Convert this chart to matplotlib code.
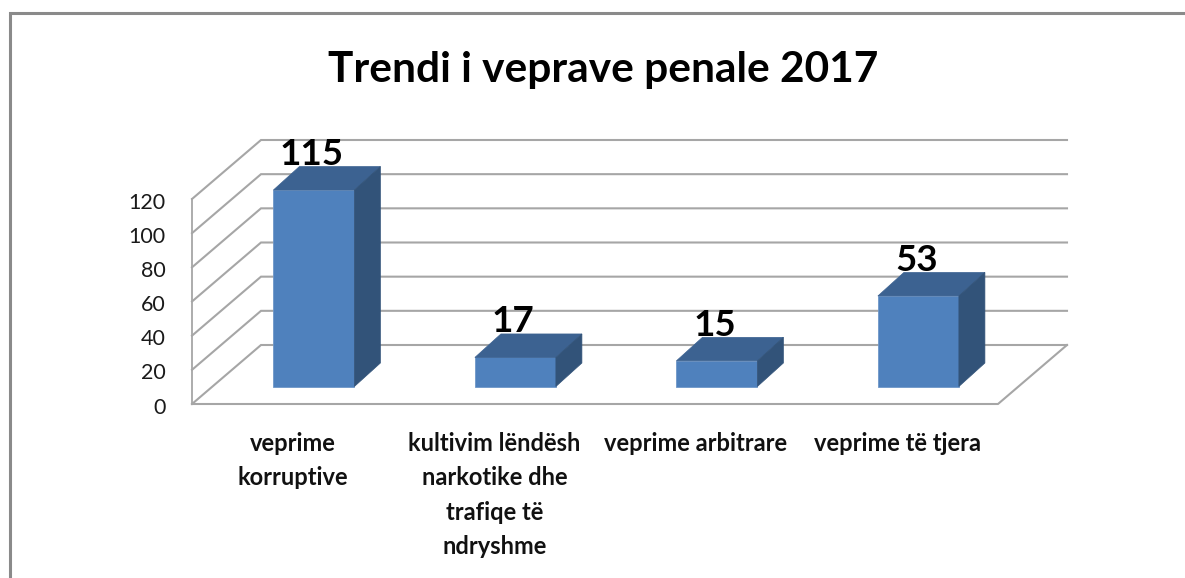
import matplotlib.pyplot as plt
from matplotlib.patches import Polygon
from matplotlib.lines import Line2D
from matplotlib.transforms import ScaledTranslation

plt.rcParams['font.family'] = ['Lato', 'DejaVu Sans']

# Values
categories = ['veprime\nkorruptive',
              'kultivim lëndësh\nnarkotike dhe\ntrafiqe të\nndryshme',
              'veprime arbitrare',
              'veprime të tjera']
values = [115, 17, 15, 53]
y_ticks = [0, 20, 40, 60, 80, 100, 120]
title = 'Trendi i veprave penale 2017'

W, H = 1185, 578
fig = plt.figure(figsize=(W / 100, H / 100), dpi=100, facecolor='white')

# Outer frame of the pasted chart, only top and left are in the crop
fig.add_artist(Line2D([9.5 / W, 9.5 / W, 1], [0, 1 - 12.5 / H, 1 - 12.5 / H], transform=fig.transFigure,
                      color='#8a8a8a', lw=2.2, solid_joinstyle='miter'))

# The axes is the front plane of the fake 3d box
left, right, top, bottom = 192, 998, 199, 404
ax = fig.add_axes([left / W, 1 - bottom / H, (right - left) / W, (bottom - top) / H])
ax.set_xlim(-0.6, 3.4)
ax.set_ylim(0, 120)
ax.patch.set_visible(False)
for s in ax.spines.values():
    s.set_visible(False)

x_per_px = 4.0 / (right - left)
y_per_px = 120.0 / (bottom - top)

# Depth of the walls and of the bars, in data units
wall_dx, wall_dy = 69 * x_per_px, 59 * y_per_px
bar_dx, bar_dy = 26 * x_per_px, 23.5 * y_per_px
bar_w = 81 * x_per_px
bar_base = 17.5 * y_per_px
bar_shift = 1 * x_per_px

grid_col = '#a6a6a6'
x0, x1 = ax.get_xlim()

for t in y_ticks:
    ax.plot([x0, x0 + wall_dx, x1 + wall_dx], [t, t + wall_dy, t + wall_dy],
            color=grid_col, lw=1.5, clip_on=False, zorder=1, solid_joinstyle='miter')
ax.plot([x0, x0], [0, 120], color=grid_col, lw=1.3, clip_on=False, zorder=1)
ax.plot([x0, x1, x1 + wall_dx], [0, 0, wall_dy], color=grid_col, lw=1.5, clip_on=False, zorder=1)

# Bars: front, top and side faces
for i, v in enumerate(values):
    xa = i - bar_w / 2 + bar_shift
    xb = xa + bar_w
    y0 = bar_base
    y1 = bar_base + v
    ax.add_patch(Polygon([(xa, y0), (xb, y0), (xb, y1), (xa, y1)], closed=True,
                         facecolor='#4f81bd', edgecolor='#6f97c8', lw=0.6, zorder=3, clip_on=False))
    ax.add_patch(Polygon([(xa, y1), (xb, y1), (xb + bar_dx, y1 + bar_dy), (xa + bar_dx, y1 + bar_dy)],
                         closed=True, facecolor='#3c6291', edgecolor='#3c6291', lw=0.5, zorder=3,
                         clip_on=False))
    ax.add_patch(Polygon([(xb, y0), (xb + bar_dx, y0 + bar_dy), (xb + bar_dx, y1 + bar_dy), (xb, y1)],
                         closed=True, facecolor='#325379', edgecolor='#325379', lw=0.5, zorder=3,
                         clip_on=False))
    ax.text(i - 1 * x_per_px, y1 + bar_dy + 1, str(v), ha='center', va='baseline', fontsize=26.5,
            fontweight='bold', color='black', zorder=4, clip_on=False)

# Ticks
ax.set_yticks(y_ticks)
ax.set_yticklabels([str(t) for t in y_ticks], fontsize=15.5, color='#1a1a1a')
ax.tick_params(axis='y', length=0, pad=19)
for lab in ax.get_yticklabels():
    lab.set_transform(lab.get_transform() + ScaledTranslation(0, -1.5 / 100, fig.dpi_scale_trans))

ax.set_xticks(range(len(categories)))
ax.set_xticklabels(categories, fontsize=17, fontweight='bold', color='#111111',
                   linespacing=1.6, va='top')
ax.tick_params(axis='x', length=0, pad=20)
for lab in ax.get_xticklabels():
    lab.set_transform(lab.get_transform() + ScaledTranslation(-20 / 100, 0, fig.dpi_scale_trans))

fig.text(603 / W, 1 - 70 / H, title, ha='center', va='center', fontsize=30.5, fontweight='bold',
         color='black')

fig.savefig('out.png', dpi=100, facecolor='white')
